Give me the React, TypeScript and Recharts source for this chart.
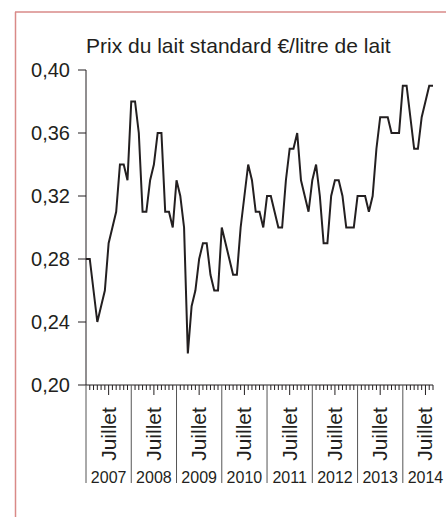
import { LineChart, Line, XAxis, YAxis } from "recharts";

// prix mensuel, janvier 2007 -> septembre 2014
const YEARS = ["2007", "2008", "2009", "2010", "2011", "2012", "2013", "2014"];
const PRICES = [
  0.28, 0.28, 0.26, 0.24, 0.25, 0.26, 0.29, 0.30, 0.31, 0.34, 0.34, 0.33,
  0.38, 0.38, 0.36, 0.31, 0.31, 0.33, 0.34, 0.36, 0.36, 0.31, 0.31, 0.30,
  0.33, 0.32, 0.30, 0.22, 0.25, 0.26, 0.28, 0.29, 0.29, 0.27, 0.26, 0.26,
  0.30, 0.29, 0.28, 0.27, 0.27, 0.30, 0.32, 0.34, 0.33, 0.31, 0.31, 0.30,
  0.32, 0.32, 0.31, 0.30, 0.30, 0.33, 0.35, 0.35, 0.36, 0.33, 0.32, 0.31,
  0.33, 0.34, 0.32, 0.29, 0.29, 0.32, 0.33, 0.33, 0.32, 0.30, 0.30, 0.30,
  0.32, 0.32, 0.32, 0.31, 0.32, 0.35, 0.37, 0.37, 0.37, 0.36, 0.36, 0.36,
  0.39, 0.39, 0.37, 0.35, 0.35, 0.37, 0.38, 0.39, 0.39,
];
const Y_TICKS = [0.2, 0.24, 0.28, 0.32, 0.36, 0.4];
const MID_LABEL = "Juillet";
const TITLE = "Prix du lait standard €/litre de lait";

const ink = "#231f20";
const font = '"Liberation Sans", Arial, sans-serif';

const data = PRICES.map((v, i) => ({ i, v }));
const monthTicks = PRICES.map((_, i) => i);

function MonthTick(props: any) {
  const { x, y, payload } = props;
  const idx = payload.value as number;
  const m = idx % 12;
  const yr = Math.floor(idx / 12);
  if (m === 0) {
    return <line x1={x} x2={x} y1={y} y2={y + 98} stroke="#555" strokeWidth={1} />;
  }
  if (m === 6) {
    return (
      <g>
        <line x1={x} x2={x} y1={y} y2={y + 10} stroke={ink} strokeWidth={1} />
        <text
          transform={`translate(${x + 7},${y + 49}) rotate(-90)`}
          textAnchor="middle"
          fontSize={21}
          fontFamily={font}
          fill={ink}
        >
          {MID_LABEL}
        </text>
        <text x={x} y={y + 98} textAnchor="middle" fontSize={16} fontFamily={font} fill={ink}>
          {YEARS[yr]}
        </text>
      </g>
    );
  }
  return <line x1={x} x2={x} y1={y} y2={y + 5} stroke={ink} strokeWidth={1} />;
}

export default function App() {
  return (
    <div style={{ position: "absolute", left: 0, top: 0, width: 446, height: 517, background: "#fff" }}>
      <LineChart
        width={446}
        height={517}
        data={data}
        margin={{ top: 70, right: 13, bottom: 0, left: 0 }}
      >
        <XAxis
          dataKey="i"
          type="number"
          domain={[0, 92]}
          ticks={monthTicks}
          interval={0}
          height={132}
          tickSize={0}
          tickMargin={0}
          tickLine={false}
          tick={<MonthTick />}
          axisLine={{ stroke: ink, strokeWidth: 1 }}
        />
        <YAxis
          type="number"
          domain={[0.2, 0.4]}
          ticks={Y_TICKS}
          width={86}
          tickSize={8}
          tickMargin={8}
          tickLine={{ stroke: ink }}
          axisLine={{ stroke: ink, strokeWidth: 1 }}
          tickFormatter={(v: number) => v.toFixed(2).replace(".", ",")}
          tick={{ fontSize: 20, fontFamily: font, fill: ink }}
        />
        <Line
          dataKey="v"
          stroke={ink}
          strokeWidth={2}
          dot={false}
          isAnimationActive={false}
          strokeLinejoin="miter"
        />
      </LineChart>
      <svg
        width={446}
        height={517}
        style={{ position: "absolute", left: 0, top: 0, pointerEvents: "none" }}
      >
        <line x1={15.5} x2={15.5} y1={12} y2={517} stroke="#d98a88" strokeWidth={1.5} />
        <line x1={15} x2={446} y1={12} y2={12} stroke="#d98a88" strokeWidth={1.5} />
        <text x={86} y={53} fontSize={21} fontFamily={font} fill={ink}>
          {TITLE}
        </text>
      </svg>
    </div>
  );
}
